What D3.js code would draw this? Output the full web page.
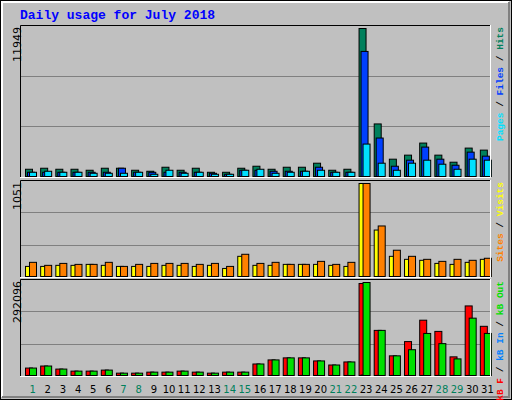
<!DOCTYPE html>
<html><head><meta charset="utf-8">
<script src="https://cdn.jsdelivr.net/npm/d3@7"></script>
<style>body{margin:0;background:#fff}</style>
</head><body><svg id="c"></svg>
<script>
const days = d3.range(1, 32);
const weekend = [1, 7, 8, 14, 15, 21, 22, 28, 29];
const hits = [585, 667, 585, 585, 504, 667, 667, 504, 423, 748, 504, 667, 341, 341, 667, 829, 585, 748, 748, 1073, 504, 585, 11949, 4244, 1398, 1724, 2699, 1724, 1154, 2293, 2130];
const files = [341, 341, 341, 341, 341, 341, 667, 341, 341, 341, 341, 341, 260, 179, 504, 504, 423, 423, 423, 748, 341, 341, 10098, 3106, 829, 1317, 2374, 1398, 910, 1967, 1642];
const pages = [341, 423, 341, 341, 260, 260, 260, 341, 179, 504, 260, 341, 179, 179, 504, 585, 260, 341, 423, 504, 341, 341, 2618, 1073, 504, 1073, 1317, 992, 585, 1398, 1317];
const visits = [114, 114, 126, 126, 137, 126, 114, 114, 114, 126, 126, 114, 126, 91, 228, 126, 126, 137, 137, 137, 126, 114, 1051, 525, 228, 194, 183, 148, 137, 160, 194];
const sites = [160, 126, 148, 137, 137, 160, 114, 137, 148, 148, 148, 137, 148, 114, 251, 148, 160, 137, 137, 171, 137, 160, 1051, 571, 297, 228, 194, 171, 194, 183, 206];
const kbF = [23350, 29750, 20150, 13750, 13750, 16950, 7350, 7350, 10550, 10550, 13750, 10550, 7350, 10550, 10550, 36150, 48950, 55350, 55350, 45750, 32950, 42550, 288900, 141700, 61750, 106500, 173700, 138500, 58550, 218500, 154500];
const kbIn = [300, 300, 300, 300, 300, 300, 300, 300, 300, 300, 300, 300, 300, 300, 300, 300, 300, 300, 300, 300, 300, 300, 1500, 300, 300, 300, 300, 300, 300, 300, 300];
const kbOut = [23350, 29750, 20150, 13750, 13750, 16950, 7350, 7350, 10550, 10550, 13750, 10550, 7350, 10550, 10550, 36150, 48950, 55350, 55350, 45750, 32950, 42550, 292096, 141700, 61750, 80950, 132100, 100100, 52150, 180100, 132100];

const W = 512, H = 400;
const svg = d3.select('#c').attr('width', W).attr('height', H);
const font = 'Courier New, Liberation Mono, monospace';

svg.append('rect').attr('width', W).attr('height', H).attr('fill', '#c0c0c0');
svg.append('rect').attr('x', 0.5).attr('y', 0.5).attr('width', W - 1).attr('height', H - 1).attr('fill', 'none').attr('stroke', '#000');
svg.append('path').attr('d', `M2,${H - 3}V2H${W - 3}`).attr('fill', 'none').attr('stroke', '#fff').attr('stroke-width', 2);
svg.append('path').attr('d', `M${W - 3},2V${H - 3}H2`).attr('fill', 'none').attr('stroke', '#808080').attr('stroke-width', 2);

svg.append('text').attr('x', 20).attr('y', 19).attr('fill', '#0000ff')
    .style('font-family', font).style('font-size', '13px').style('font-weight', 'bold')
    .text('Daily usage for July 2018');

const x = d3.scaleBand().domain(days).range([20, 490]);

function panel(top, bottom, max, series, legend) {
    const y = d3.scaleLinear().domain([0, max]).range([bottom - 1, top + 3]);
    const g = svg.append('g');
    [1 / 3, 2 / 3].forEach(f => {
        const gy = Math.round(bottom - (bottom - top) * f) + 0.5;
        g.append('line').attr('x1', 21).attr('x2', 490).attr('y1', gy).attr('y2', gy)
            .attr('stroke', '#808080');
    });
    series.forEach(s => {
        g.selectAll(null).data(s.values).join('rect')
            .attr('x', (d, i) => x(days[i]) + 5 + s.off + 0.5)
            .attr('y', d => y(d) + 0.5)
            .attr('width', 7)
            .attr('height', d => Math.max(0, y(0) - y(d)))
            .attr('fill', s.color).attr('stroke', '#000');
    });
    g.append('path').attr('d', `M20.5,${bottom}V${top + 0.5}H490`).attr('fill', 'none').attr('stroke', '#000');
    g.append('path').attr('d', `M490.5,${top}V${bottom + 0.5}H20`).attr('fill', 'none').attr('stroke', '#fff');
    g.append('text').attr('transform', `translate(21,${top + 2}) rotate(-90)`)
        .attr('text-anchor', 'end').style('font-family', 'DejaVu Sans, sans-serif').style('font-size', '11px')
        .text(max);
    const t = g.append('text').attr('transform', `translate(503,${top + 2}) rotate(-90)`)
        .attr('text-anchor', 'end').style('font-family', font).style('font-size', '9.5px').style('font-weight', 'bold');
    legend.forEach((l, i) => {
        if (i) t.append('tspan').attr('fill', '#000').text('/');
        t.append('tspan').attr('fill', l[1]).text(l[0]);
    });
}

panel(25, 177, 11949, [
    { values: hits, color: '#00805c', off: 0 },
    { values: files, color: '#0040ff', off: 2 },
    { values: pages, color: '#00e0ff', off: 4 }
], [['Pages ', '#00e0ff'], [' Files ', '#0040ff'], [' Hits', '#00805c']]);

panel(180, 277, 1051, [
    { values: visits, color: '#ffff00', off: 0 },
    { values: sites, color: '#ff8000', off: 4 }
], [['Sites ', '#ff8000'], [' Visits', '#ffff00']]);

panel(279, 376, 292096, [
    { values: kbF, color: '#ff0000', off: 0 },
    { values: kbIn, color: '#0080ff', off: 2 },
    { values: kbOut, color: '#00e000', off: 4 }
], [['kB F ', '#ff0000'], [' kB In ', '#0080ff'], [' kB Out', '#00e000']]);

svg.append('g').selectAll('text').data(days).join('text')
    .attr('x', d => x(d) + x.bandwidth() / 2 + 5)
    .attr('y', 393)
    .attr('text-anchor', 'middle')
    .attr('fill', d => weekend.includes(d) ? '#00805c' : '#000')
    .style('font-family', 'DejaVu Sans, sans-serif').style('font-size', '10px')
    .text(d => d);
</script></body></html>
